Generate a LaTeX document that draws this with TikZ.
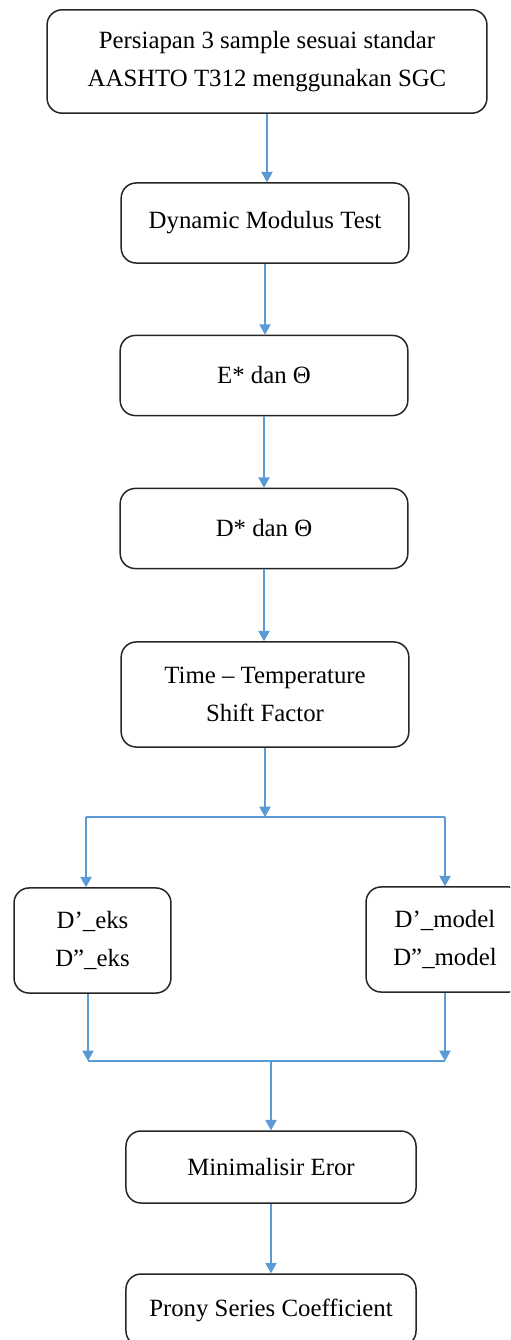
\documentclass[tikz,border=0pt]{standalone}
\usepackage{fontspec}
\setmainfont{Liberation Serif}
\usetikzlibrary{arrows.meta}
\definecolor{flowblue}{RGB}{91,155,213}

\begin{document}
\begin{tikzpicture}[x=0.532pt, y=-0.532pt,
        box/.style={draw=black!85, line width=0.8pt, rounded corners=8pt, align=center, inner sep=0pt,
            font=\fontsize{13.2}{20.5}\selectfont},
        flow/.style={flowblue, line width=0.8pt, -{Triangle[width=6pt,length=5.5pt]}},
        link/.style={flowblue, line width=0.8pt}]
            \clip (0,0) rectangle (510,1340);
            \node[box, minimum width=234pt, minimum height=55pt] (prep) at (267,61.5) {Persiapan 3 sample sesuai standar\\AASHTO T312 menggunakan SGC};
            \node[box, minimum width=153pt, minimum height=42.6pt] (dmt) at (265,223) {Dynamic Modulus Test};
            \node[box, minimum width=153pt, minimum height=42.6pt] (estar) at (264,375.5) {E* dan Θ};
            \node[box, minimum width=153pt, minimum height=42.6pt] (dstar) at (264,528.5) {D* dan Θ};
            \node[box, minimum width=153pt, minimum height=55.9pt] (tts) at (265,694.5) {Time – Temperature\\Shift Factor};
            \node[box, minimum width=83.5pt, minimum height=55.9pt] (eks) at (92.5,940.5) {D’\_eks\\D”\_eks};
            \node[box, minimum width=84pt, minimum height=55.9pt] (model) at (445,939.5) {D’\_model\\D”\_model};
            \node[box, minimum width=154.3pt, minimum height=38.3pt] (minim) at (271,1167) {Minimalisir Eror};
            \node[box, minimum width=154.3pt, minimum height=38.3pt] (prony) at (271,1310) {Prony Series Coefficient};

            \coordinate (split) at (265,817);
            \coordinate (splitl) at (86,817);
            \coordinate (splitr) at (445,817);
            \coordinate (join) at (271,1061);
            \coordinate (joinl) at (88,1061);
            \coordinate (joinr) at (445,1061);

            \draw[flow] (prep.south) -- (prep.south |- dmt.north);
            \draw[flow] (dmt) -- (dmt |- estar.north);
            \draw[flow] (estar) -- (dstar);
            \draw[flow] (dstar) -- (dstar |- tts.north);
            \draw[flow] (tts) -- (split);
            \draw[link] (splitl) -- (splitr);
            \draw[flow] (splitl) -- (splitl |- eks.north);
            \draw[flow] (splitr) -- (model);
            \draw[flow] (eks.south -| joinl) -- (joinl);
            \draw[flow] (model) -- (joinr);
            \draw[link] (joinl) -- (joinr);
            \draw[flow] (join) -- (minim);
            \draw[flow] (minim) -- (prony);

        \end{tikzpicture}
\end{document}
